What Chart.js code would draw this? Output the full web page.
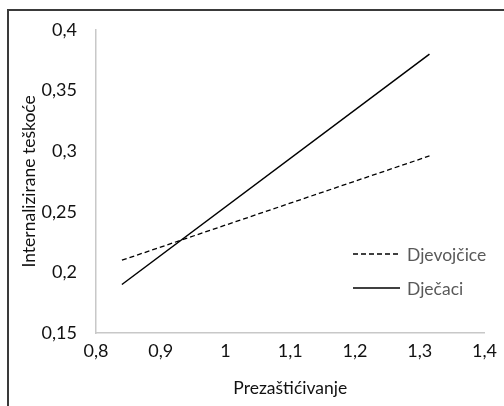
<!DOCTYPE html>
<html>
<head>
<meta charset="utf-8">
<script src="https://cdn.jsdelivr.net/npm/chart.js@4/dist/chart.umd.min.js"></script>
<style>
  html, body { margin: 0; padding: 0; background: #fff; }
  #wrap { position: relative; width: 504px; height: 406px; }
  #frame {
    position: absolute; left: 7px; top: 9px; right: 0; bottom: 0;
    border-top: 2px solid #3a3a3a; border-left: 2px solid #3a3a3a;
  }
  canvas { position: absolute; left: 0; top: 0; }
</style>
</head>
<body>
<div id="wrap">
  <div id="frame"></div>
  <canvas id="canvas" width="504" height="406"></canvas>
</div>
<script>
const canvas = document.getElementById('canvas');
const ctx = canvas.getContext('2d');

// podaci
const xValues = [0.84, 1.315];
const djevojcice = [0.21, 0.296];
const djecaci = [0.19, 0.38];
const seriesNames = ['Djevojčice', 'Dječaci'];

const FONT = 'Lato, "Open Sans", sans-serif';

const toPoints = (ys) => xValues.map((x, i) => ({ x: x, y: ys[i] }));
const fmt = (v) => Number(v.toFixed(2)).toString().replace('.', ',');

// legenda unutar grafa, desno
const insideLegend = {
  id: 'insideLegend',
  afterDraw(chart) {
    const c = chart.ctx;
    const x0 = 353, x1 = 400;
    const ys = [254, 288];
    c.save();
    chart.data.datasets.forEach((ds, i) => {
      c.beginPath();
      c.setLineDash(ds.borderDash || []);
      c.lineWidth = ds.borderWidth;
      c.strokeStyle = ds.borderColor;
      c.moveTo(x0, ys[i]);
      c.lineTo(x1, ys[i]);
      c.stroke();
      c.setLineDash([]);
      c.fillStyle = '#595959';
      c.font = '17.5px ' + FONT;
      c.textBaseline = 'middle';
      c.fillText(ds.label, x1 + 7, ys[i] + 1);
    });
    c.restore();
  },
};

new Chart(ctx, {
  type: 'line',
  data: {
    datasets: [
      {
        label: seriesNames[0],
        data: toPoints(djevojcice),
        borderColor: '#000',
        borderWidth: 1.3,
        borderDash: [5, 3],
        pointRadius: 0,
        fill: false,
      },
      {
        label: seriesNames[1],
        data: toPoints(djecaci),
        borderColor: '#000',
        borderWidth: 1.5,
        pointRadius: 0,
        fill: false,
      },
    ],
  },
  options: {
    responsive: false,
    animation: false,
    layout: { padding: { left: 11, top: 29, right: 17, bottom: 7 } },
    plugins: { legend: { display: false }, tooltip: { enabled: false } },
    scales: {
      x: {
        type: 'linear',
        min: 0.8,
        max: 1.4,
        ticks: {
          stepSize: 0.1,
          maxRotation: 0,
          padding: 7,
          color: '#111',
          font: { family: FONT, size: 18 },
          callback: (v) => fmt(v),
        },
        grid: { display: false, drawTicks: false },
        border: { color: '#c8c8c8', width: 1.5 },
        title: {
          display: true,
          text: 'Prezaštićivanje',
          color: '#111',
          font: { family: FONT, size: 17.5 },
          padding: 0,
        },
        afterFit: (scale) => { scale.height = 406 - 333 - 7; },
      },
      y: {
        min: 0.15,
        max: 0.4,
        ticks: {
          stepSize: 0.05,
          padding: 19,
          color: '#111',
          font: { family: FONT, size: 18 },
          callback: (v) => fmt(v),
        },
        grid: { display: false, drawTicks: false },
        border: { color: '#c8c8c8', width: 1.5 },
        title: {
          display: true,
          text: 'Internalizirane teškoće',
          color: '#111',
          font: { family: FONT, size: 17.5 },
          padding: 8,
        },
        afterFit: (scale) => { scale.width = 96 - 11; },
      },
    },
  },
  plugins: [insideLegend],
});
</script>
</body>
</html>
